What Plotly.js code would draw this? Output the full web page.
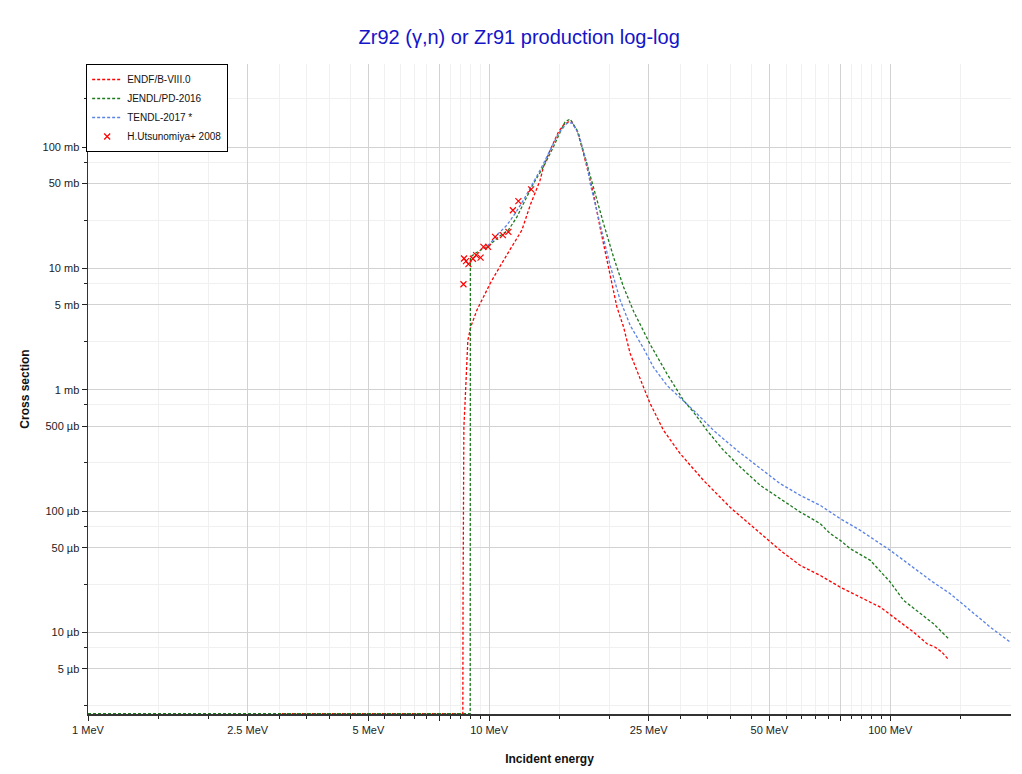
<!DOCTYPE html>
<html>
<head>
<meta charset="utf-8">
<script src="https://cdn.plot.ly/plotly-3.0.1.min.js"></script>
<style>html,body{margin:0;padding:0;background:#fff;}#chart{width:1022px;height:774px;}</style>
</head>
<body>
<div id="chart"></div>
<script>
// Zero cross-section values are drawn on the bottom edge of the log axis (as in the reference)
const zeroFloor = 0.00214; // mb

// ENDF/B-VIII.0  (energy in MeV, cross section in mb)
const endfE = [3.04, 8.60, 8.61, 8.65, 8.70, 8.76, 8.85, 9.00, 9.32, 9.68, 10.06, 10.45, 10.86, 11.33, 12.07, 12.66, 13.40, 13.66, 14.20, 14.47, 14.89, 15.32, 15.77, 16.08, 16.70, 17.52, 18.20, 18.92, 20.03, 20.82, 21.63, 22.47, 24.25, 25.20, 26.19, 27.21, 29.94, 34.23, 39.9, 47.41, 53.17, 59.65, 66.91, 75.05, 84.2, 94.4, 101.9, 114.3, 123.5, 129.5, 134.5, 139.8];
const endfXS = [zeroFloor, zeroFloor, 0.0184, 0.491, 0.721, 1.37, 2.56, 3.30, 4.53, 5.82, 7.52, 9.37, 11.7, 14.7, 20.7, 33.2, 53.4, 68.8, 94.5, 107.3, 133.7, 151.9, 161.7, 161.7, 129.7, 68.8, 41.5, 21.5, 8.55, 4.82, 3.30, 1.99, 1.054, 0.770, 0.597, 0.4634, 0.2977, 0.1793, 0.1074, 0.0652, 0.0475, 0.0357, 0.0295, 0.0236, 0.01955, 0.01617, 0.01337, 0.01006, 0.00807, 0.00756, 0.00688, 0.00596];

// JENDL/PD-2016
const jendlE = [1, 8.97, 8.98, 9.23, 9.68, 9.96, 10.55, 11.17, 11.73, 12.29, 12.90, 13.66, 14.47, 15.18, 15.47, 15.92, 16.55, 17.52, 18.56, 19.28, 20.42, 21.63, 22.91, 25.20, 27.74, 30.51, 32.32, 34.91, 38.40, 42.27, 47.41, 53.17, 59.65, 66.91, 70.87, 75.05, 79.48, 89.17, 100, 107.9, 118.8, 128.2, 139.8];
const jendlXS = [zeroFloor, zeroFloor, 12.4, 13.3, 14.6, 15.2, 18.2, 20.7, 26.6, 36.6, 50.2, 68.8, 100.6, 142.7, 161.7, 170.2, 138.1, 73.4, 36.6, 23.5, 12.45, 7.04, 4.44, 2.37, 1.36, 0.819, 0.656, 0.463, 0.317, 0.231, 0.163, 0.127, 0.0982, 0.0788, 0.0652, 0.0574, 0.049, 0.0393, 0.026, 0.0184, 0.0143, 0.0118, 0.00887];

// TENDL-2017
const tendlE = [9.68, 10.06, 10.55, 11.07, 11.61, 12.18, 12.78, 13.40, 14.20, 14.89, 15.62, 16.08, 16.70, 17.52, 17.86, 18.92, 20.03, 21.22, 22.47, 24.25, 25.69, 27.74, 29.94, 32.32, 36.26, 41.48, 47.41, 53.17, 59.65, 66.91, 75.05, 84.2, 100, 112.2, 125.9, 141.1, 158.3, 177.6, 199.2];
const tendlXS = [14.6, 16.06, 19.4, 22.7, 28.4, 36.6, 48.6, 64.6, 94.5, 129.7, 156.9, 158.7, 130.5, 73.8, 50.2, 22.3, 10.6, 5.47, 3.40, 2.20, 1.533, 1.089, 0.867, 0.678, 0.463, 0.317, 0.2253, 0.1684, 0.1349, 0.1115, 0.0866, 0.0694, 0.0475, 0.0357, 0.0269, 0.02085, 0.0152, 0.01106, 0.00832];

// H.Utsunomiya+ 2008 (experimental)
const expE = [8.63, 8.66, 8.76, 8.88, 9.11, 9.28, 9.52, 9.68, 9.94, 10.35, 10.82, 11.17, 11.46, 11.83, 12.73];
const expXS = [7.41, 12.08, 11.48, 10.84, 12.03, 12.86, 12.27, 15.06, 15.06, 18.2, 18.8, 20.0, 30.2, 35.9, 44.8];

// Axis ticks
const xTickVals = [1, 2.5, 5, 7.5, 10, 25, 50, 75, 100];
const xTickText = ['1 MeV', '2.5 MeV', '5 MeV', '', '10 MeV', '25 MeV', '50 MeV', '', '100 MeV'];
const xMinorVals = [1.5, 2, 3, 3.5, 4, 4.5, 5.5, 6, 6.5, 7, 8, 8.5, 9, 9.5, 15, 20, 30, 35, 40, 45, 55, 60, 65, 70, 80, 85, 90, 95, 150];
const yTickVals = [100, 50, 10, 5, 1, 0.5, 0.1, 0.05, 0.01, 0.005];
const yTickText = ['100 mb', '50 mb', '10 mb', '5 mb', '1 mb', '500 µb', '100 µb', '50 µb', '10 µb', '5 µb'];
const yMinorVals = [250, 75, 25, 7.5, 2.5, 0.75, 0.25, 0.075, 0.025, 0.0075, 0.0025];

const FONT = 'Liberation Sans, Arial, sans-serif';
const xRange = [0, Math.log10(200)];
const yRange = [-2.672, 2.685];

const lineW = 1.3;
const dashPat = '3px,2px';

const traces = [
  {x: endfE, y: endfXS, name: 'ENDF/B-VIII.0', mode: 'lines', type: 'scatter',
   line: {color: '#ff0000', width: lineW, dash: dashPat}},
  {x: jendlE, y: jendlXS, name: 'JENDL/PD-2016', mode: 'lines', type: 'scatter',
   line: {color: '#1e7a1e', width: lineW, dash: dashPat}},
  {x: tendlE, y: tendlXS, name: 'TENDL-2017 *', mode: 'lines', type: 'scatter',
   line: {color: '#5a82e6', width: lineW, dash: dashPat}},
  {x: expE, y: expXS, name: 'H.Utsunomiya+ 2008', mode: 'markers', type: 'scatter',
   marker: {symbol: 'x-thin-open', size: 6, color: '#ff0000', line: {color: '#ff0000', width: 1.2}}}
];

const gridMajor = '#d2d2d2';
const gridMinor = '#f0f0f0';

const layout = {
  width: 1022, height: 774,
  paper_bgcolor: '#ffffff', plot_bgcolor: '#ffffff',
  margin: {l: 88, r: 11, t: 64, b: 60},
  font: {family: FONT, size: 11, color: '#222'},
  title: {
    text: 'Zr92 (γ,n) or Zr91 production log-log',
    font: {family: FONT, size: 20, color: '#1414c8'},
    x: 0.508, xref: 'container', xanchor: 'center',
    y: 0.952, yref: 'container', yanchor: 'middle'
  },
  showlegend: true,
  legend: {
    x: -0.002, y: 1, xanchor: 'left', yanchor: 'top',
    bgcolor: '#ffffff', bordercolor: '#000000', borderwidth: 1,
    font: {family: FONT, size: 10, color: '#111'},
    tracegroupgap: 0
  },
  xaxis: {
    type: 'log', range: xRange,
    tickmode: 'array', tickvals: xTickVals, ticktext: xTickText,
    ticks: 'outside', ticklen: 5, tickcolor: '#222', tickwidth: 1,
    showgrid: true, gridcolor: gridMajor, gridwidth: 1,
    showline: true, linecolor: '#333', linewidth: 1.5,
    zeroline: false,
    tickfont: {family: FONT, size: 11, color: '#222'},
    minor: {tickmode: 'array', tickvals: xMinorVals, ticks: 'outside', ticklen: 3, tickcolor: '#222',
            showgrid: true, gridcolor: gridMinor, gridwidth: 1},
    title: {text: 'Incident energy', font: {family: FONT, size: 12, color: '#111', weight: 'bold'}, standoff: 20}
  },
  yaxis: {
    type: 'log', range: yRange,
    tickmode: 'array', tickvals: yTickVals, ticktext: yTickText,
    ticks: 'outside', ticklen: 5, tickcolor: '#222', tickwidth: 1,
    showgrid: true, gridcolor: gridMajor, gridwidth: 1,
    showline: true, linecolor: '#333', linewidth: 1.5,
    zeroline: false,
    tickfont: {family: FONT, size: 11, color: '#222'},
    minor: {tickmode: 'array', tickvals: yMinorVals, ticks: 'outside', ticklen: 3, tickcolor: '#222',
            showgrid: true, gridcolor: gridMinor, gridwidth: 1},
    title: {text: 'Cross section', font: {family: FONT, size: 12, color: '#111', weight: 'bold'}, standoff: 10}
  },
  xaxis2: {
    type: 'log', range: xRange, overlaying: 'x', anchor: 'y', side: 'top',
    tickmode: 'array', tickvals: xTickVals, showticklabels: false,
    ticks: 'inside', ticklen: 4, tickcolor: '#222',
    showgrid: false, zeroline: false,
    showline: true, linecolor: '#111', linewidth: 1,
    minor: {tickmode: 'array', tickvals: xMinorVals, ticks: 'inside', ticklen: 3, tickcolor: '#444', showgrid: false}
  },
  yaxis2: {
    type: 'log', range: yRange, overlaying: 'y', anchor: 'x', side: 'right',
    tickmode: 'array', tickvals: yTickVals, showticklabels: false,
    ticks: 'inside', ticklen: 4, tickcolor: '#222',
    showgrid: false, zeroline: false,
    showline: true, linecolor: '#333', linewidth: 2,
    minor: {tickmode: 'array', tickvals: yMinorVals, ticks: 'inside', ticklen: 3, tickcolor: '#444', showgrid: false}
  }
};

Plotly.newPlot('chart', traces, layout, {displayModeBar: false, staticPlot: true});
</script>
</body>
</html>
